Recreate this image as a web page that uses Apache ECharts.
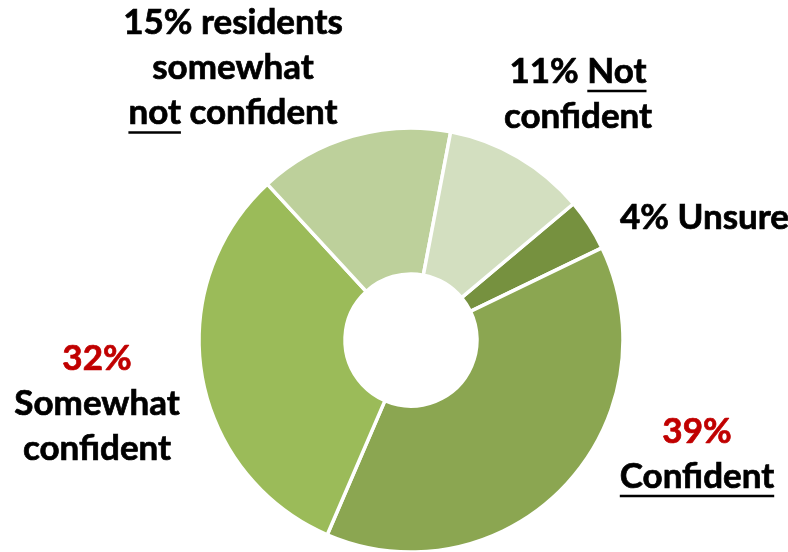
<!DOCTYPE html>
<html>
<head>
<meta charset="utf-8">
<script src="https://cdn.jsdelivr.net/npm/echarts@6/dist/echarts.min.js"></script>
<style>html,body{margin:0;padding:0;background:#fff}#c{width:788px;height:552px}</style>
</head>
<body>
<div id="c"></div>
<script>
// ---- data ----
const names = ['Unsure', 'Confident', 'Somewhat confident', 'Somewhat not confident', 'Not confident'];
const values = [4, 39, 32, 15, 11];
const colors = ['#76913F', '#8BA651', '#9BBB59', '#BDD09B', '#D3DFC0'];

// ---- styles / layout ----
const FONT_FAMILY = 'Lato';
const FS = 35;
const LH = 45;
const RED = '#C00000';
const fontStr = 'bold ' + FS + 'px ' + FONT_FAMILY;

function labelText(i) {
  const v = values[i];
  switch (i) {
    case 0: return [['b', v + '% Unsure']];
    case 1: return [['r', v + '%'], ['b', 'Confident']];
    case 2: return [['r', v + '%'], ['b', 'Somewhat'], ['b', 'confident']];
    case 3: return [['b', v + '% residents'], ['b', 'somewhat'], ['b', 'not confident']];
    case 4: return [['b', v + '% Not'], ['b', 'confident']];
  }
}
// label anchors (block center / left for Unsure)
const anchors = [
  { x: 620, y: 218, align: 'left' },
  { x: 697, y: 454, align: 'center' },
  { x: 97, y: 404, align: 'center' },
  { x: 233, y: 68, align: 'center' },
  { x: 578, y: 94, align: 'center' }
];
// underline specs: [dataIndex, lineIndex, prefix, word]
const underlines = [
  [1, 1, '', 'Confident'],
  [3, 2, '', 'not'],
  [4, 0, values[4] + '% ', 'Not']
];

const canvas = document.createElement('canvas');
const ctx = canvas.getContext('2d');
ctx.font = fontStr;
const mw = s => ctx.measureText(s).width;

const graphics = underlines.map(([di, li, prefix, word]) => {
  const lines = labelText(di);
  const a = anchors[di];
  const full = lines[li][1];
  const W = mw(full);
  const left = a.align === 'left' ? a.x : a.x - W / 2;
  const top = a.y - lines.length * LH / 2;
  const lineCy = top + LH * (li + 0.5);
  return {
    type: 'rect',
    shape: { x: left + mw(prefix), y: lineCy + FS * 0.52, width: mw(word), height: 2.5 },
    style: { fill: '#000' },
    silent: true
  };
});

const richStyle = color => ({
  fontFamily: FONT_FAMILY, fontWeight: 'bold', fontSize: FS, lineHeight: LH,
  color: color, textBorderColor: color, textBorderWidth: 0.7
});

const chart = echarts.init(document.getElementById('c'), null, { renderer: 'canvas' });
chart.setOption({
  animation: false,
  backgroundColor: '#fff',
  graphic: graphics,
  series: [{
    type: 'pie',
    center: [411, 340],
    radius: [66, 212],
    startAngle: 40,
    clockwise: true,
    avoidLabelOverlap: false,
    selectedMode: false,
    itemStyle: { borderColor: '#fff', borderWidth: 3.5 },
    emphasis: { disabled: true },
    labelLine: { show: false },
    label: {
      show: true,
      position: 'outside',
      formatter: p => labelText(p.dataIndex).map(([s, t]) => '{' + s + '|' + t + '}').join('\n'),
      rich: { b: richStyle('#000'), r: richStyle(RED) }
    },
    labelLayout: p => {
      const a = anchors[p.dataIndex];
      return { x: a.x, y: a.y, align: a.align, verticalAlign: 'middle' };
    },
    data: names.map((n, i) => ({
      name: n,
      value: values[i],
      itemStyle: { color: colors[i] }
    }))
  }]
});
</script>
</body>
</html>
